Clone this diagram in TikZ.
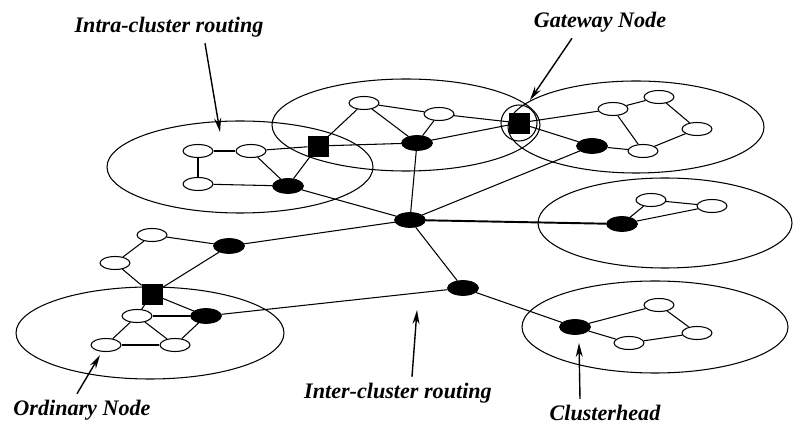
\documentclass[tikz,border=0pt]{standalone}
\usepackage{fontspec}
\setmainfont{Liberation Serif}
\usetikzlibrary{shapes.geometric,arrows.meta}

\begin{document}
\begin{tikzpicture}[x=0.02cm,y=-0.02cm,>=Stealth,
    ordnode/.style={ellipse,draw,fill=white,line width=0.6pt,minimum width=0.6cm,minimum height=0.26cm,inner sep=0pt},
    headnode/.style={ellipse,draw,fill=black,minimum width=0.62cm,minimum height=0.3cm,inner sep=0pt},
    gatenode/.style={rectangle,draw,fill=black,minimum size=0.4cm,inner sep=0pt},
    link/.style={line width=0.6pt},
    cluster/.style={line width=0.6pt},
    pointer/.style={line width=0.8pt,-{Stealth[length=8pt,width=4pt]}},
    lbl/.style={font=\fontsize{12.6}{14}\selectfont\bfseries\itshape}]
    \useasboundingbox (0,0) rectangle (795,425);

    % Cluster boundaries
    \draw[cluster] (240,167) ellipse [x radius=133, y radius=46];
    \draw[cluster] (406,125) ellipse [x radius=134, y radius=46];
    \draw[cluster] (636,127) ellipse [x radius=128, y radius=46];
    \draw[cluster] (519,123) circle [radius=18];
    \draw[cluster] (665,223) ellipse [x radius=127, y radius=45];
    \draw[cluster] (655,327) ellipse [x radius=133, y radius=46];
    \draw[cluster] (150,333) ellipse [x radius=134, y radius=46];

    % Upper left cluster
    \node[ordnode] (a1) at (198,151) {};
    \node[ordnode] (a2) at (251,151) {};
    \node[ordnode] (a3) at (198,184) {};
    \node[headnode] (h1) at (288,186) {};
    \node[gatenode] (g1) at (318,146) {};

    % Upper middle cluster
    \node[ordnode] (b1) at (364,103) {};
    \node[ordnode] (b2) at (439,114) {};
    \node[headnode] (h2) at (417,143) {};
    \node[gatenode] (g2) at (519,123) {};

    % Upper right cluster
    \node[ordnode] (c1) at (613,109) {};
    \node[ordnode] (c2) at (659,97) {};
    \node[ordnode] (c3) at (697,129) {};
    \node[ordnode] (c4) at (643,151) {};
    \node[headnode] (h3) at (592,146) {};

    % Middle right cluster
    \node[headnode] (h4) at (622,224) {};
    \node[ordnode] (d1) at (651,200) {};
    \node[ordnode] (d2) at (712,206) {};

    % Backbone
    \node[headnode] (hub) at (410,220) {};
    \node[headnode] (r1) at (229,246) {};
    \node[headnode] (r2) at (463,288) {};
    \node[ordnode] (e1) at (152,235) {};
    \node[ordnode] (e2) at (115,263) {};

    % Lower left cluster
    \node[gatenode] (g3) at (152,294) {};
    \node[ordnode] (f1) at (137,316) {};
    \node[headnode] (h6) at (206,316) {};
    \node[ordnode] (f2) at (106,345) {};
    \node[ordnode] (f3) at (175,345) {};

    % Lower right cluster
    \node[headnode] (h7) at (575,327) {};
    \node[ordnode] (k1) at (659,305) {};
    \node[ordnode] (k2) at (697,333) {};
    \node[ordnode] (k3) at (629,343) {};

    % Links
    \foreach \u/\v in {a1/a2,a1/a3,a3/h1,a2/h1,a2/g1,g1/h1,h1/hub,
        g1/b1,b1/b2,b1/h2,b2/h2,g1/h2,h2/g2,b2/g2,h2/hub,
        g2/c1,c1/c2,c2/c3,c3/c4,c1/c4,h3/c4,g2/h3,hub/h3,
        h4/d1,d1/d2,d2/h4,
        e1/r1,r1/hub,e1/e2,e2/g3,g3/r1,g3/f1,g3/h6,f1/h6,f1/f2,f1/f3,f2/f3,h6/f3,h6/r2,hub/r2,
        r2/h7,h7/k1,k1/k2,k2/k3,k3/h7}
        \draw[link] (\u) -- (\v);
    \draw[link,line width=1.1pt] (hub) -- (h4);

    % Labels
    \node[lbl] (intra) at (169,27) {Intra-cluster routing};
    \node[lbl] (gate) at (600,22) {Gateway Node};
    \node[lbl] (ordin) at (82,410) {Ordinary Node};
    \node[lbl] (inter) at (398,393) {Inter-cluster routing};
    \node[lbl] (chead) at (605,413) {Clusterhead};

    % Pointers
    \coordinate (intratip) at (220,132);
    \coordinate (gatetip) at (530,100);
    \coordinate (ordtip) at (100,355);
    \coordinate (intertip) at (417,310);
    \coordinate (headtip) at (579,343);
    \draw[pointer] ([xshift=0.72cm]intra.south) -- (intratip);
    \draw[pointer] ([xshift=-0.56cm]gate.south) -- (gatetip);
    \draw[pointer] ([xshift=-0.1cm]ordin.north) -- (ordtip);
    \draw[pointer] ([xshift=0.28cm]inter.north) -- (intertip);
    \draw[pointer] ([xshift=-0.5cm]chead.north) -- (headtip);
\end{tikzpicture}
\end{document}
